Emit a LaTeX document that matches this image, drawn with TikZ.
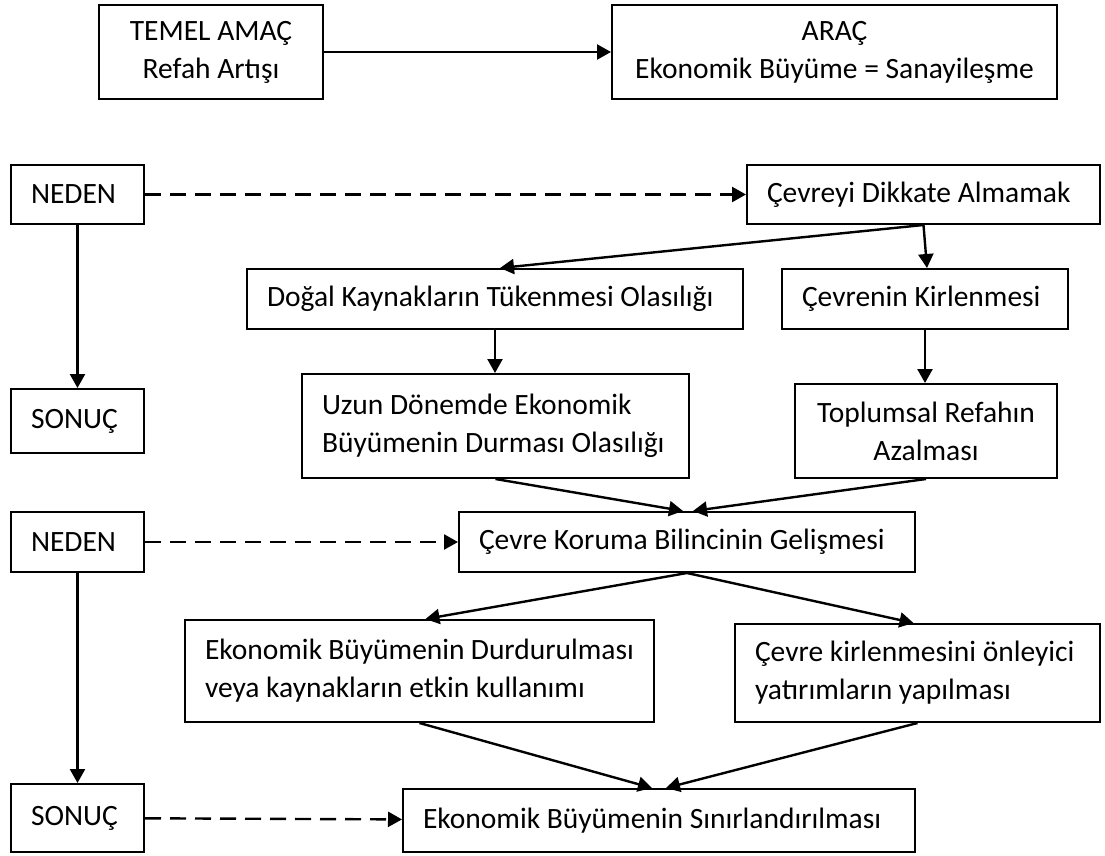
\documentclass[tikz,border=0pt]{standalone}
\usepackage{fontspec}
\setmainfont{Carlito}
\usetikzlibrary{arrows.meta,calc}

\tikzset{
  box/.style={draw, line width=2pt, inner xsep=20pt, inner ysep=0pt,
    font=\fontsize{29.5}{38}\selectfont},
  lbox/.style={box, align=flush left},
  cbox/.style={box, align=center},
  arr/.style={line width=2.4pt, -{Triangle[length=14pt,width=15pt]}},
  dashline/.style={dash pattern=on 16pt off 9pt}
}

\begin{document}
\begin{tikzpicture}[x=1pt,y=-1pt]
\useasboundingbox (0,0) rectangle (1105,856);

% top row
\node[cbox, minimum width=224pt, minimum height=94pt] (temel) at (211,52) {TEMEL AMAÇ\\Refah Artışı};
\node[cbox, minimum width=445pt, minimum height=94pt] (arac) at (834.5,52) {ARAÇ\\Ekonomik Büyüme = Sanayileşme};

% first cause / effect block
\node[lbox, minimum width=133pt, minimum height=59pt, text width=93pt] (neden1) at (77.5,194.5) {NEDEN};
\node[lbox, minimum width=353pt, minimum height=59pt, text width=313pt] (cevreyi) at (923.5,194.5) {Çevreyi Dikkate Almamak};
\node[lbox, minimum width=496pt, minimum height=60pt, text width=456pt] (dogal) at (495,299) {Doğal Kaynakların Tükenmesi Olasılığı};
\node[lbox, minimum width=286pt, minimum height=60pt, text width=246pt] (cevrenin) at (925,299) {Çevrenin Kirlenmesi};
\node[lbox, minimum width=133pt, minimum height=64pt, text width=93pt] (sonuc1) at (77.5,421) {SONUÇ};
\node[lbox, minimum width=387pt, minimum height=104pt, text width=347pt] (uzun) at (495.5,426) {Uzun Dönemde Ekonomik\\Büyümenin Durması Olasılığı};
\node[cbox, minimum width=262pt, minimum height=94pt] (toplum) at (926,431) {Toplumsal Refahın\\Azalması};

% second cause / effect block
\node[lbox, minimum width=133pt, minimum height=60pt, text width=93pt] (neden2) at (77.5,542) {NEDEN};
\node[lbox, minimum width=456pt, minimum height=60pt, text width=416pt] (koruma) at (687,542) {Çevre Koruma Bilincinin Gelişmesi};
\node[lbox, minimum width=469pt, minimum height=102pt, text width=429pt] (durdur) at (419.5,671) {Ekonomik Büyümenin Durdurulması\\veya kaynakların etkin kullanımı};
\node[lbox, minimum width=365pt, minimum height=98pt, text width=325pt] (kirlen) at (917.5,673) {Çevre kirlenmesini önleyici\\yatırımların yapılması};
\node[lbox, minimum width=133pt, minimum height=68pt, text width=93pt] (sonuc2) at (77.5,818) {SONUÇ};
\node[lbox, minimum width=512pt, minimum height=63pt, text width=472pt] (sinir) at (659,820.5) {Ekonomik Büyümenin Sınırlandırılması};

% connectors
\draw[arr] (temel) -- (arac);
\draw[arr, dashline] (neden1) -- (cevreyi);
\draw[arr] (neden1) -- (sonuc1);
\draw[arr] (cevreyi.south) -- ([xshift=5pt]dogal.north);
\draw[arr] (cevreyi.south) -- ([xshift=2pt]cevrenin.north);
\draw[arr] (dogal.south) -- (dogal.south |- uzun.north);
\draw[arr] (cevrenin.south) -- (cevrenin.south |- toplum.north);
\draw[arr] (uzun.south) -- ([xshift=-4pt]koruma.north);
\draw[arr] (toplum.south) -- ([xshift=6pt]koruma.north);
\draw[arr, dashline] (neden2) -- (koruma);
\draw[arr] (neden2) -- (sonuc2);
\draw[arr] (koruma.south) -- ([xshift=6pt]durdur.north);
\draw[arr] (koruma.south) -- ([xshift=-4pt]kirlen.north);
\draw[arr] (durdur.south) -- ([xshift=-7pt]sinir.north);
\draw[arr] (kirlen.south) -- ([xshift=7pt]sinir.north);
\draw[arr, dashline] (sonuc2) -- (sinir);
\end{tikzpicture}
\end{document}
